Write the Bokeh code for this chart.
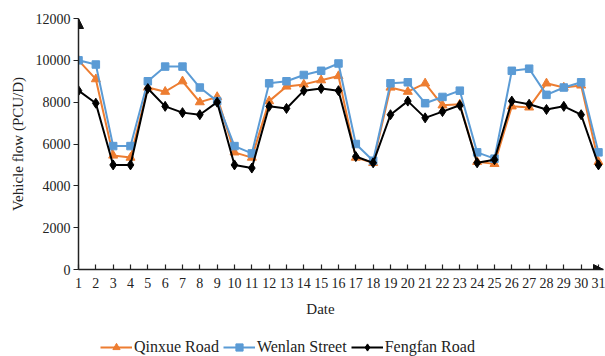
from bokeh.plotting import figure
from bokeh.layouts import column
from bokeh.models import Range1d, FixedTicker, Legend, LegendItem, Arrow, NormalHead, Label
from bokeh.embed import file_html
from bokeh.resources import INLINE

days = list(range(1, 32))
qinxue = [10000, 9100, 5450, 5350, 8700, 8500, 9000, 8000, 8250, 5600, 5350, 8050, 8750, 8850, 9050, 9250,
          5350, 5100, 8700, 8500, 8900, 7850, 7900, 5150, 5050, 7800, 7750, 8900, 8700, 8800, 5150]
wenlan = [10000, 9800, 5900, 5900, 9000, 9700, 9700, 8700, 8050, 5900, 5550, 8900, 9000, 9300, 9500, 9850,
          6000, 5200, 8900, 8950, 7950, 8250, 8550, 5600, 5300, 9500, 9600, 8350, 8700, 8950, 5600]
fengfan = [8550, 7950, 5000, 5000, 8650, 7800, 7500, 7400, 8000, 5000, 4850, 7800, 7700, 8550, 8650, 8550,
           5400, 5100, 7400, 8050, 7250, 7550, 7850, 5100, 5250, 8050, 7900, 7650, 7800, 7400, 5000]
y_ticks = [0, 2000, 4000, 6000, 8000, 10000, 12000]
series_names = ["Qinxue Road", "Wenlan Street", "Fengfan Road"]

FONT = "Liberation Serif"
ORANGE = "#ED7D31"
BLUE = "#5B9BD5"
BLACK = "#000000"
TXT = "#222222"
styles = [(qinxue, ORANGE, "triangle", 9), (wenlan, BLUE, "square", 7.5), (fengfan, BLACK, "diamond", 10)]

W = 605
p = figure(width=W, height=298, output_backend="svg", toolbar_location=None,
           x_range=Range1d(1, 31.29), y_range=Range1d(0, 12000),
           min_border_left=78, min_border_right=2, min_border_top=18, min_border_bottom=29)
p.outline_line_color = None
p.grid.grid_line_color = None

for ax in (p.xaxis[0], p.yaxis[0]):
    ax.axis_line_color = "#222222"
    ax.axis_line_width = 1.5
    ax.major_tick_line_color = "#222222"
    ax.major_tick_line_width = 1.2
    ax.minor_tick_line_color = None
    ax.major_label_text_font = FONT
    ax.major_label_text_font_size = "14px"
    ax.major_label_text_color = TXT
    ax.axis_label_text_font = FONT
    ax.axis_label_text_font_size = "15px"
    ax.axis_label_text_font_style = "normal"
    ax.axis_label_text_color = TXT

p.xaxis.ticker = FixedTicker(ticks=days)
p.xaxis.major_tick_in = 5
p.xaxis.major_tick_out = 0
p.xaxis.major_label_standoff = 8

p.yaxis.ticker = FixedTicker(ticks=y_ticks)
p.yaxis.major_tick_in = 0
p.yaxis.major_tick_out = 5
p.yaxis.major_label_standoff = 3
p.yaxis.axis_label = "Vehicle flow (PCU/D)"
p.yaxis.axis_label_standoff = 7

for vals, col, mk, sz in styles:
    p.line(days, vals, line_color=col, line_width=2)
    p.scatter(days, vals, marker=mk, size=sz, fill_color=col, line_color=col)

# axis arrow heads
p.add_layout(Arrow(x_start=1, y_start=11700, x_end=1, y_end=12000, line_alpha=0,
                   end=NormalHead(size=10, fill_color="#111111", line_color="#111111")))
p.add_layout(Arrow(x_start=30.9, y_start=0, x_end=31.29, y_end=0, line_alpha=0,
                   end=NormalHead(size=10, fill_color="#111111", line_color="#111111")))

# lower strip: x-axis title and legend
q = figure(width=W, height=58, output_backend="svg", toolbar_location=None,
           x_range=Range1d(-20, -10), y_range=Range1d(0, 1),
           x_axis_location=None, y_axis_location=None, min_border=0)
q.outline_line_color = None
q.grid.grid_line_color = None

items = []
for name, (vals, col, mk, sz) in zip(series_names, styles):
    rl = q.line(days, vals, line_color=col, line_width=2)
    rm = q.scatter(days, vals, marker=mk, size=sz, fill_color=col, line_color=col)
    items.append(LegendItem(label=name, renderers=[rl, rm]))

q.add_layout(Label(x=242, y=48, x_units="screen", y_units="screen", text="Date",
                   text_font=FONT, text_font_size="15px", text_color=TXT,
                   text_align="center", text_baseline="middle"))

legend = Legend(items=items, orientation="horizontal", location=(22, 0))
legend.label_text_font = FONT
legend.label_text_font_size = "16px"
legend.label_text_color = TXT
legend.border_line_color = None
legend.background_fill_alpha = 0
legend.padding = 0
legend.margin = 0
legend.spacing = 4
legend.glyph_width = 32
legend.glyph_height = 18
legend.label_height = 18
legend.label_standoff = 2
q.add_layout(legend, "center")

open("out.html", "w").write(file_html(column(p, q, spacing=0), INLINE))
